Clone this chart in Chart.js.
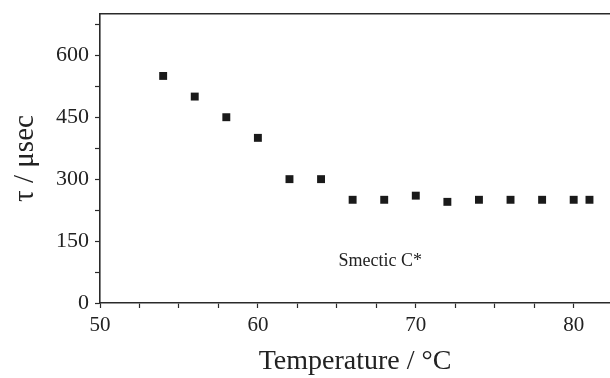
<!DOCTYPE html>
<html>
<head>
<meta charset="utf-8">
<script src="https://cdn.jsdelivr.net/npm/chart.js@4/dist/chart.umd.min.js"></script>
<style>
  html, body { margin: 0; padding: 0; background: #fff; }
  #wrap { width: 610px; height: 378px; }
</style>
</head>
<body>
<div id="wrap"><canvas id="tauChart"></canvas></div>
<script>
// data
const temperatures = [54, 56, 58, 60, 62, 64, 66, 68, 70, 72, 74, 76, 78, 80, 81];
const tauValues = [550, 500, 450, 400, 300, 300, 250, 250, 260, 245, 250, 250, 250, 250, 250];
const xTicks = [50, 52.5, 55, 57.5, 60, 62.5, 65, 67.5, 70, 72.5, 75, 77.5, 80];
const yTicks = [0, 75, 150, 225, 300, 375, 450, 525, 600, 675];
const phaseLabel = 'Smectic C*';
const phaseLabelAt = [65.1, 90];

const serif = '"Liberation Serif", "Times New Roman", serif';
const ink = '#222';

const phaseText = {
    id: 'phaseText',
    afterDatasetsDraw(chart) {
        const ctx = chart.ctx;
        ctx.save();
        ctx.font = '18px ' + serif;
        ctx.fillStyle = ink;
        ctx.textBaseline = 'alphabetic';
        ctx.fillText(phaseLabel,
            chart.scales.x.getPixelForValue(phaseLabelAt[0]),
            chart.scales.y.getPixelForValue(phaseLabelAt[1]));
        ctx.restore();
    }
};

// the plot runs right up to the edge of the picture, drop the label overhang
function noLabelPadding(scale) {
    scale.paddingLeft = 0;
    scale.paddingRight = 0;
    scale.paddingTop = 0;
    scale.paddingBottom = 0;
}

const ctx = document.getElementById('tauChart').getContext('2d');

new Chart(ctx, {
    type: 'scatter',
    plugins: [phaseText],
    data: {
        datasets: [{
            data: temperatures.map((t, i) => ({x: t, y: tauValues[i]})),
            pointStyle: 'rect',
            pointRadius: 5.6,
            pointBorderWidth: 0,
            backgroundColor: '#1a1a1a',
            borderColor: '#1a1a1a'
        }]
    },
    options: {
        responsive: true,
        maintainAspectRatio: false,
        animation: false,
        layout: { padding: 0, autoPadding: false },
        plugins: {
            legend: { display: false },
            tooltip: { enabled: false }
        },
        scales: {
            x: {
                type: 'linear',
                min: 50,
                max: 82.3,
                afterBuildTicks: scale => { scale.ticks = xTicks.map(v => ({value: v})); },
                afterFit: scale => { scale.height = 75; noLabelPadding(scale); },
                border: { display: true, color: '#2a2a2a', width: 1.6 },
                grid: {
                    drawOnChartArea: false,
                    tickLength: 5,
                    tickColor: '#2a2a2a',
                    tickWidth: 1.2
                },
                ticks: {
                    autoSkip: false,
                    maxRotation: 0,
                    padding: 5,
                    color: ink,
                    font: { family: serif, size: 21 },
                    callback: v => (v % 10 === 0 ? v : '')
                },
                title: {
                    display: true,
                    text: 'Temperature / °C',
                    color: ink,
                    font: { family: serif, size: 28 },
                    padding: { top: 6, bottom: 0 }
                }
            },
            xTop: {
                type: 'linear',
                position: 'top',
                min: 50,
                max: 82.3,
                afterFit: scale => { scale.height = 14; noLabelPadding(scale); },
                border: { display: true, color: '#2a2a2a', width: 1.6 },
                grid: { display: false },
                ticks: { display: false }
            },
            y: {
                type: 'linear',
                min: 0,
                max: 700,
                afterBuildTicks: scale => { scale.ticks = yTicks.map(v => ({value: v})); },
                afterFit: scale => { scale.width = 100; noLabelPadding(scale); },
                border: { display: true, color: '#2a2a2a', width: 1.6 },
                grid: {
                    drawOnChartArea: false,
                    tickLength: 5,
                    tickColor: '#2a2a2a',
                    tickWidth: 1.2
                },
                ticks: {
                    autoSkip: false,
                    padding: 6,
                    color: ink,
                    font: { family: serif, size: 22 },
                    callback: v => (v % 150 === 0 ? v : '')
                },
                title: {
                    display: true,
                    text: 'τ / μsec',
                    color: ink,
                    font: { family: serif, size: 29 },
                    padding: { top: 8, bottom: 0 }
                }
            }
        }
    }
});
</script>
</body>
</html>
